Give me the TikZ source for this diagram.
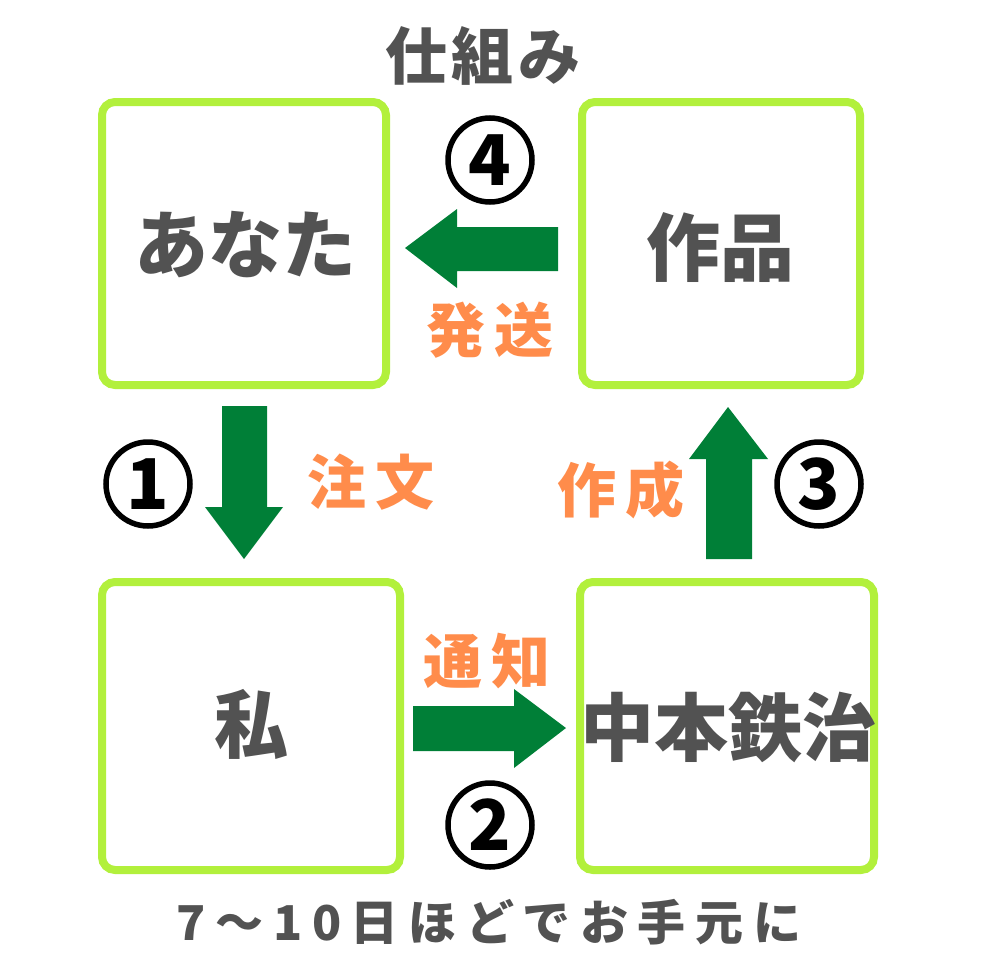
\documentclass[tikz,border=0pt]{standalone}
\usepackage{fontspec}
\setmainfont{Noto Sans CJK JP}
\newfontfamily\spacedfont{Noto Sans CJK JP}[LetterSpace=20]
\newfontfamily\labelfont{Noto Sans CJK JP}[LetterSpace=16]
\newfontfamily\titlefont{Noto Sans CJK JP}[LetterSpace=8]
\definecolor{lime}{HTML}{B2F03C}
\definecolor{arrowgreen}{HTML}{007F37}
\definecolor{labelorange}{HTML}{FF8C4B}
\definecolor{textgray}{HTML}{525252}
\tikzset{
  box/.style={draw=lime, line width=8pt, rounded corners=13pt, fill=white},
  boxtext/.style={font=\fontsize{74}{80}\selectfont\bfseries, text=textgray, inner sep=0pt},
  arrowfill/.style={fill=arrowgreen},
  orangelabel/.style={font=\labelfont\fontsize{59}{64}\selectfont\bfseries, text=labelorange, inner sep=0pt},
  circnum/.style={draw=black, line width=5.5pt, circle, minimum size=84pt, inner sep=0pt,
     font=\fontsize{70}{76}\selectfont\bfseries, text=black},
}
\begin{document}
\begin{tikzpicture}[x=1pt,y=-1pt]
\useasboundingbox (0,0) rectangle (980,980);
% boxes
\draw[box] (102,102) rectangle (386,385);
\draw[box] (582,102) rectangle (860,385);
\draw[box] (102,582) rectangle (400,870);
\draw[box] (580,582) rectangle (874,870);
\node[boxtext] (you) at (245,245) {あなた};
\node[boxtext] (work) at (720,248) {作品};
\node[boxtext] (me) at (251,724) {私};
\node[boxtext] (nakamoto) at (728,727) {中本鉄治};
% arrows
\fill[arrowfill] (558,227) -- (457,227) -- (457,209) -- (405,248) -- (457,288) -- (457,271) -- (558,271) -- cycle;
\fill[arrowfill] (222,406) -- (222,507) -- (205,507) -- (244,559) -- (283,507) -- (267,507) -- (267,406) -- cycle;
\fill[arrowfill] (413,706) -- (514,706) -- (514,689) -- (566,728) -- (514,768) -- (514,751) -- (413,751) -- cycle;
\fill[arrowfill] (706,559) -- (706,459) -- (689,459) -- (728,407) -- (768,459) -- (752,459) -- (752,559) -- cycle;
% circled numbers
\node[circnum] (n4) at (490,160) {4};
\node[circnum] (n1) at (148,484) {1};
\node[circnum] (n2) at (490,825) {2};
\node[circnum] (n3) at (819,484) {3};
% orange labels
\node[orangelabel] (hasso) at (490,330) {発送};
\node[orangelabel] (chumon) at (371,482) {注文};
\node[orangelabel] (sakusei) at (621,490) {作成};
\node[orangelabel] (tsuchi) at (487,661) {通知};
% title and footer
\node[font=\titlefont\fontsize{62}{68}\selectfont\bfseries, text=textgray, inner sep=0pt] (title) at (483,56) {仕組み};
\node[font=\spacedfont\fontsize{48}{54}\selectfont\bfseries, text=textgray, inner sep=0pt] (footer) at (489,922) {7〜10日ほどでお手元に};
\end{tikzpicture}
\end{document}
